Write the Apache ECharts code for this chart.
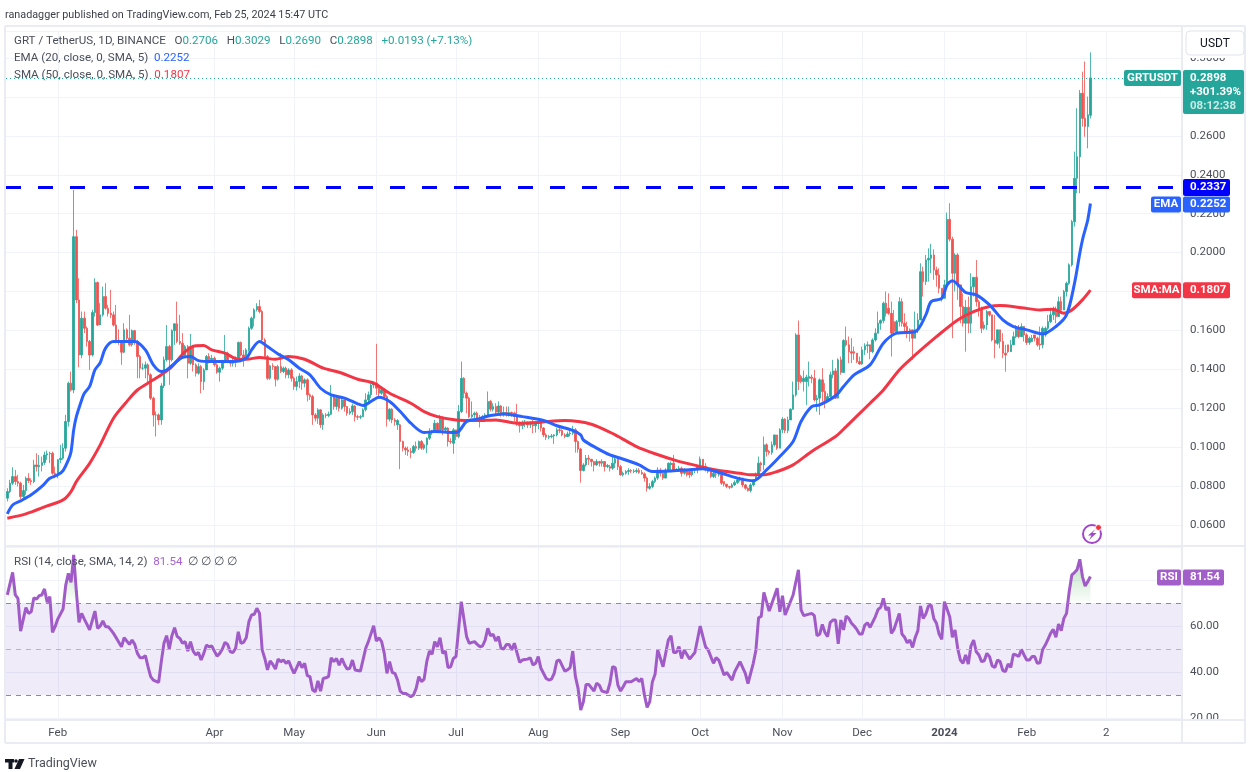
<!DOCTYPE html>
<html lang="en">
  <head>
    <meta charset="utf-8" />
    <title>GRT / TetherUS</title>
    <style>
      * {
        margin: 0;
        padding: 0;
      }

      body {
        background: #fff;
      }

      #chart-container {
        position: relative;
        width: 1250px;
        height: 772px;
        overflow: hidden;
      }
    </style>
  </head>

  <body>
    <div id="chart-container"></div>
    <script src="https://cdn.jsdelivr.net/npm/echarts@6.0.0/dist/echarts.min.js"></script>
    <script>
      // daily candles from 2023-01-13 to 2024-02-25
      var opens = [
        .0738,.0772,.0815,.0849,.0823,.0815,.0746,.0777,.0840,.0828,
        .0823,.0909,.0900,.0906,.0921,.0960,.0966,.0969,.0866,.0863,
        .0935,.0943,.0995,.1132,.1329,.1294,.2082,.1757,.1474,.1663,
        .1611,.1543,.1474,.1692,.1846,.1628,.1680,.1774,.1714,.1688,
        .1680,.1628,.1551,.1543,.1488,.1603,.1560,.1526,.1599,.1543,
        .1466,.1406,.1406,.1423,.1372,.1252,.1166,.1166,.1140,.1315,
        .1449,.1517,.1449,.1599,.1634,.1543,.1534,.1474,.1517,.1431,
        .1517,.1423,.1380,.1414,.1337,.1397,.1466,.1449,.1457,.1423,
        .1385,.1406,.1440,.1483,.1440,.1431,.1440,.1452,.1538,.1474,
        .1457,.1500,.1611,.1663,.1706,.1723,.1697,.1551,.1466,.1354,
        .1418,.1414,.1349,.1414,.1389,.1406,.1372,.1397,.1354,.1312,
        .1337,.1366,.1329,.1346,.1269,.1260,.1166,.1149,.1192,.1115,
        .1166,.1163,.1169,.1260,.1209,.1252,.1200,.1243,.1209,.1175,
        .1183,.1212,.1157,.1154,.1157,.1192,.1243,.1269,.1320,.1329,
        .1303,.1277,.1295,.1260,.1144,.1195,.1140,.1115,.1115,.1029,
        .0995,.0986,.0978,.0972,.1003,.0995,.1029,.0995,.1012,.1046,
        .1080,.1084,.1123,.1080,.1149,.1089,.1098,.1029,.1020,.1089,
        .1055,.1183,.1354,.1277,.1252,.1157,.1166,.1175,.1149,.1140,
        .1157,.1166,.1235,.1195,.1209,.1180,.1212,.1175,.1178,.1175,
        .1178,.1175,.1157,.1115,.1110,.1120,.1120,.1115,.1116,.1110,
        .1123,.1127,.1098,.1063,.1051,.1055,.1058,.1063,.1089,.1086,
        .1063,.1055,.1068,.1072,.1089,.1029,.0990,.0880,.0909,
        .0943,.0938,.0926,.0909,.0926,.0918,.0926,.0900,.0900,.0892,
        .0918,.0938,.0900,.0858,.0866,.0875,.0880,.0875,.0875,.0880,
        .0870,.0863,.0841,.0789,.0798,.0823,.0841,.0883,.0866,.0841,
        .0883,.0909,.0918,.0883,.0883,.0892,.0866,.0887,.0875,.0858,
        .0883,.0887,.0900,.0938,.0900,.0883,.0875,.0849,.0858,.0858,
        .0858,.0823,.0810,.0798,.0794,.0806,.0818,.0832,.0841,.0806,
        .0789,.0777,.0806,.0829,.0858,.0918,.0909,.1012,.0978,.0972,
        .1012,.1063,.0995,.1089,.1144,.1086,.1140,.1195,.1269,.1577,
        .1363,.1337,.1337,.1354,.1360,.1354,.1243,.1252,.1346,.1286,
        .1243,.1260,.1372,.1392,.1252,.1449,.1384,.1548,.1526,.1491,
        .1491,.1483,.1440,.1428,.1500,
        .1521,.1526,.1491,.1551,.1586,.1637,.1651,.1740,.1714,.1688,
        .1645,.1594,.1645,.1748,.1637,.1620,.1603,.1603,.1560,.1603,
        .1654,.1902,.1851,.1962,.1971,.1988,.1911,.1885,.1817,.1765,
        .1834,.2171,.2069,.1894,.1988,.1834,.1723,.1637,.1719,.1637,
        .1825,.1873,.1748,.1705,.1611,.1628,.1697,.1680,.1551,.1534,
        .1603,.1543,.1483,.1526,.1491,.1526,.1568,.1606,.1568,.1620,
        .1577,.1538,.1543,.1577,.1560,.1530,.1526,.1577,.1611,.1645,
        .1680,.1705,.1671,.1748,.1705,.1800,.1842,.1937,.2159,.2382,
        .2493,.2819,.2690,.2648,.2706
      ];
      var highs = [
        .0789,.0832,.0897,.0883,.0858,.0823,.0806,.0849,.0866,.0840,
        .0935,.0969,.0960,.0952,.0977,.0983,.0977,.0977,.0900,.0938,
        .1012,.1020,.1166,.1337,.1389,.2322,.2117,.1868,.1697,.1697,
        .1620,.1551,.1706,.1868,.1851,.1740,.1825,.1843,.1731,.1808,
        .1697,.1731,.1606,.1551,.1637,.1611,.1680,.1606,.1603,.1551,
        .1474,.1431,.1440,.1431,.1380,.1260,.1183,.1174,.1329,.1466,
        .1628,.1526,.1606,.1637,.1748,.1680,.1586,.1526,.1526,.1582,
        .1526,.1431,.1431,.1423,.1406,.1474,.1483,.1474,.1466,.1431,
        .1414,.1449,.1577,.1491,.1449,.1457,.1466,.1543,.1543,.1500,
        .1509,.1620,.1671,.1714,.1740,.1757,.1706,.1560,.1474,.1423,
        .1431,.1414,.1423,.1483,.1414,.1414,.1406,.1406,.1363,.1363,
        .1380,.1372,.1354,.1354,.1277,.1269,.1175,.1200,.1195,.1175,
        .1175,.1183,.1320,.1269,.1260,.1260,.1252,.1243,.1209,.1200,
        .1223,.1217,.1166,.1166,.1200,.1277,.1286,.1329,.1337,.1531,
        .1320,.1308,.1303,.1269,.1200,.1200,.1149,.1144,.1120,.1034,
        .1003,.1003,.0995,.1012,.1029,.1034,.1037,.1020,.1051,.1098,
        .1089,.1140,.1127,.1166,.1157,.1106,.1103,.1046,.1098,.1089,
        .1217,.1440,.1360,.1286,.1260,.1235,.1183,.1183,.1166,.1166,
        .1175,.1286,.1243,.1226,.1226,.1235,.1217,.1209,.1209,.1209,
        .1183,.1183,.1223,.1132,.1137,.1140,.1132,.1132,.1140,.1132,
        .1149,.1132,.1103,.1072,.1063,.1068,.1067,.1098,.1098,.1092,
        .1072,.1080,.1086,.1110,.1098,.1034,.0995,.0918,.0960,
        .0960,.0935,.0921,.0938,.0930,.0938,.0918,.0914,.0909,.0955,
        .0952,.0938,.0909,.0875,.0883,.0892,.0887,.0887,.0892,.0892,
        .0883,.0870,.0849,.0815,.0832,.0849,.0897,.0892,.0866,.0892,
        .0921,.0926,.0960,.0892,.0904,.0900,.0892,.0883,.0880,.0892,
        .0892,.0909,.0952,.0938,.0918,.0892,.0875,.0875,.0870,.0870,
        .0858,.0823,.0811,.0801,.0815,.0829,.0841,.0849,.0841,.0811,
        .0794,.0815,.0835,.0870,.0952,.0926,.1055,.1020,.0986,.1029,
        .1063,.1063,.1098,.1154,.1149,.1157,.1200,.1337,.1586,.1651,
        .1372,.1394,.1372,.1440,.1372,.1397,.1269,.1354,.1406,.1329,
        .1277,.1389,.1449,.1406,.1457,.1466,.1555,.1620,.1569,.1560,
        .1517,.1483,.1466,.1517,.1534,
        .1543,.1520,.1560,.1611,.1697,.1657,.1748,.1800,.1791,.1748,
        .1705,.1654,.1771,.1765,.1688,.1645,.1611,.1603,.1697,.1688,
        .1945,.1928,.1988,.2022,.2045,.2017,.1928,.1920,.1817,.1860,
        .2206,.2254,.2082,.1997,.1997,.1774,.1791,.1757,.1774,.1894,
        .1873,.1962,.1757,.1723,.1645,.1705,.1697,.1680,.1680,.1603,
        .1603,.1586,.1526,.1526,.1551,.1594,.1628,.1628,.1637,.1603,
        .1586,.1568,.1577,.1577,.1568,.1620,.1620,.1620,.1680,.1705,
        .1723,.1723,.1774,.1774,.1808,.1851,.1945,.2168,.2519,.2742,
        .2836,.2930,.2982,.2802,.3029
      ];
      var lows = [
        .0721,.0763,.0806,.0806,.0798,.0733,.0738,.0755,.0815,.0806,
        .0815,.0875,.0849,.0875,.0909,.0935,.0918,.0858,.0840,.0840,
        .0918,.0935,.0977,.1106,.1286,.1277,.1740,.1411,.1457,.1586,
        .1517,.1397,.1466,.1671,.1623,.1628,.1671,.1706,.1671,.1663,
        .1620,.1534,.1526,.1423,.1483,.1543,.1517,.1517,.1526,.1354,
        .1354,.1397,.1354,.1329,.1243,.1106,.1055,.1115,.1115,.1303,
        .1440,.1320,.1440,.1526,.1534,.1526,.1466,.1466,.1354,.1423,
        .1389,.1363,.1372,.1277,.1294,.1397,.1431,.1440,.1414,.1377,
        .1337,.1397,.1431,.1431,.1414,.1414,.1411,.1445,.1466,.1414,
        .1445,.1491,.1603,.1620,.1697,.1688,.1543,.1457,.1346,.1346,
        .1397,.1312,.1342,.1380,.1380,.1354,.1354,.1337,.1294,.1291,
        .1303,.1295,.1308,.1235,.1243,.1115,.1132,.1120,.1098,.1089,
        .1149,.1154,.1166,.1192,.1192,.1183,.1192,.1183,.1161,.1166,
        .1166,.1132,.1140,.1144,.1157,.1183,.1226,.1252,.1303,.1269,
        .1260,.1269,.1243,.1106,.1132,.1123,.1110,.1089,.0887,.0978,
        .0960,.0955,.0943,.0966,.0978,.0986,.0986,.0986,.0969,.1037,
        .1063,.1075,.1072,.1080,.1063,.1080,.1003,.1017,.0966,.1037,
        .1046,.1175,.1252,.1175,.1149,.1149,.1149,.1132,.1101,.1132,
        .1144,.1161,.1183,.1183,.1166,.1175,.1157,.1157,.1157,.1157,
        .1157,.1132,.1110,.1075,.1092,.1103,.1098,.1098,.1072,.1075,
        .1092,.1080,.1051,.1037,.1041,.1046,.1017,.1055,.1072,.1055,
        .1046,.1051,.1055,.1063,.0972,.0972,.0818,.0875,.0900,
        .0909,.0900,.0875,.0904,.0900,.0900,.0875,.0892,.0875,.0883,
        .0892,.0883,.0853,.0849,.0858,.0858,.0866,.0866,.0866,.0863,
        .0858,.0823,.0772,.0781,.0789,.0815,.0832,.0849,.0832,.0841,
        .0883,.0883,.0875,.0875,.0875,.0849,.0858,.0849,.0841,.0849,
        .0866,.0866,.0883,.0883,.0875,.0866,.0841,.0841,.0841,.0849,
        .0806,.0798,.0789,.0784,.0789,.0801,.0811,.0823,.0794,.0781,
        .0772,.0767,.0798,.0823,.0858,.0875,.0883,.0952,.0961,.0961,
        .1003,.0986,.0995,.1072,.1072,.1072,.1140,.1192,.1260,.1294,
        .1329,.1286,.1217,.1312,.1329,.1235,.1183,.1166,.1235,.1200,
        .1243,.1243,.1354,.1247,.1372,.1372,.1384,.1517,.1432,.1432,
        .1449,.1432,.1423,.1423,.1474,
        .1483,.1452,.1483,.1543,.1594,.1603,.1637,.1671,.1680,.1466,
        .1577,.1586,.1620,.1620,.1594,.1560,.1543,.1449,.1560,.1586,
        .1765,.1774,.1834,.1851,.1894,.1860,.1825,.1791,.1748,.1765,
        .1834,.2057,.1560,.1800,.1757,.1637,.1620,.1491,.1586,.1586,
        .1774,.1723,.1671,.1586,.1603,.1603,.1671,.1543,.1457,.1526,
        .1508,.1457,.1388,.1483,.1500,.1543,.1560,.1560,.1586,.1543,
        .1526,.1526,.1551,.1543,.1517,.1500,.1508,.1568,.1603,.1637,
        .1654,.1637,.1671,.1697,.1705,.1774,.1834,.1928,.2134,.2305,
        .2305,.2648,.2596,.2536,.2690
      ];
      var closes = [
        .0772,.0815,.0849,.0823,.0815,.0746,.0777,.0840,.0828,.0823,
        .0909,.0900,.0906,.0921,.0960,.0966,.0969,.0866,.0863,.0935,
        .0943,.0995,.1132,.1329,.1294,.2082,.1757,.1474,.1663,.1611,
        .1543,.1474,.1692,.1846,.1628,.1680,.1774,.1714,.1688,.1680,
        .1628,.1551,.1543,.1488,.1603,.1560,.1526,.1599,.1543,.1466,
        .1406,.1406,.1423,.1372,.1252,.1166,.1166,.1140,.1315,.1449,
        .1517,.1449,.1599,.1634,.1543,.1534,.1474,.1517,.1431,.1517,
        .1423,.1380,.1414,.1337,.1397,.1466,.1449,.1457,.1423,.1385,
        .1406,.1440,.1483,.1440,.1431,.1440,.1452,.1538,.1474,.1457,
        .1500,.1611,.1663,.1706,.1723,.1697,.1551,.1466,.1354,.1418,
        .1414,.1349,.1414,.1389,.1406,.1372,.1397,.1354,.1312,.1337,
        .1366,.1329,.1346,.1269,.1260,.1166,.1149,.1192,.1115,.1166,
        .1163,.1169,.1260,.1209,.1252,.1200,.1243,.1209,.1175,.1183,
        .1212,.1157,.1154,.1157,.1192,.1243,.1269,.1320,.1329,.1303,
        .1277,.1295,.1260,.1144,.1195,.1140,.1132,.1137,.1029,.0995,
        .0986,.0978,.0972,.1003,.0995,.1029,.0995,.1012,.1046,.1080,
        .1084,.1123,.1080,.1149,.1089,.1098,.1029,.1027,.1089,.1055,
        .1183,.1354,.1277,.1252,.1157,.1166,.1175,.1149,.1140,.1157,
        .1166,.1235,.1195,.1209,.1180,.1212,.1175,.1178,.1175,.1178,
        .1175,.1157,.1115,.1110,.1120,.1120,.1115,.1116,.1110,.1123,
        .1127,.1098,.1063,.1051,.1055,.1058,.1063,.1089,.1086,.1063,
        .1055,.1068,.1072,.1089,.1029,.0990,.0880,.0909,.0943,
        .0938,.0926,.0909,.0926,.0918,.0926,.0900,.0906,.0892,.0918,
        .0938,.0900,.0858,.0866,.0875,.0880,.0878,.0878,.0880,.0870,
        .0863,.0841,.0789,.0798,.0823,.0841,.0883,.0866,.0841,.0883,
        .0918,.0918,.0883,.0883,.0892,.0866,.0887,.0858,.0858,.0883,
        .0887,.0900,.0938,.0900,.0883,.0875,.0849,.0866,.0858,.0858,
        .0815,.0810,.0798,.0794,.0806,.0818,.0832,.0841,.0806,.0789,
        .0777,.0806,.0829,.0858,.0918,.0909,.1012,.0978,.0972,.1012,
        .1063,.0995,.1089,.1144,.1086,.1140,.1195,.1269,.1577,.1337,
        .1337,.1354,.1360,.1363,.1354,.1243,.1252,.1346,.1286,.1243,
        .1260,.1372,.1392,.1252,.1449,.1384,.1548,.1526,.1491,.1483,
        .1483,.1440,.1428,.1500,.1521,
        .1526,.1491,.1551,.1586,.1637,.1651,.1740,.1688,.1688,.1586,
        .1594,.1645,.1748,.1637,.1620,.1586,.1586,.1560,.1603,.1654,
        .1902,.1851,.1962,.1971,.1988,.1911,.1885,.1817,.1765,.1834,
        .2171,.2069,.1894,.1988,.1834,.1723,.1637,.1719,.1637,.1825,
        .1873,.1748,.1705,.1611,.1628,.1697,.1680,.1551,.1534,.1603,
        .1543,.1483,.1474,.1491,.1526,.1568,.1606,.1568,.1620,.1577,
        .1538,.1560,.1560,.1560,.1526,.1526,.1611,.1611,.1645,.1680,
        .1705,.1671,.1748,.1705,.1800,.1842,.1937,.2159,.2382,.2493,
        .2819,.2690,.2648,.2708,.2898
      ];

      // [day index, value], read at the bends of each line
      var emaPoints = [
        [0,.0657],[2,.0703],[5,.0724],[9,.0755],[13,.0798],[16,.0840],[19,.0858],[21,.0880],[23,.0935],[24,.0977],
        [25,.1089],[26,.1157],[28,.1243],[29,.1277],[31,.1312],[33,.1397],[35,.1435],[37,.1509],[40,.1543],[44,.1543],
        [48,.1543],[52,.1500],[55,.1423],[58,.1389],[60,.1397],[63,.1431],[66,.1462],[69,.1466],[72,.1445],[77,.1440],
        [85,.1440],[90,.1457],[92,.1500],[95,.1543],[98,.1517],[102,.1479],[106,.1449],[110,.1406],[114,.1372],[118,.1303],
        [122,.1269],[127,.1252],[132,.1223],[134,.1214],[137,.1235],[140,.1257],[144,.1235],[148,.1183],[152,.1123],[157,.1075],
        [161,.1080],[168,.1075],[170,.1080],[173,.1132],[177,.1144],[182,.1163],[187,.1171],[194,.1157],[202,.1137],[207,.1110],
        [213,.1086],[216,.1063],[217,.1037],[222,.0995],[227,.0960],[231,.0943],[238,.0909],[243,.0875],[250,.0878],[256,.0883],
        [262,.0889],[269,.0866],[275,.0841],[281,.0827],[286,.0883],[291,.0952],[296,.1029],[299,.1132],[303,.1209],[306,.1217],
        [312,.1264],[315,.1312],[319,.1372],[325,.1423],[330,.1534],[335,.1586],[342,.1594],[346,.1680],[348,.1748],[352,.1765],
        [354,.1834],[356,.1856],[361,.1795],[365,.1783],[370,.1731],[375,.1654],[379,.1620],[384,.1603],[390,.1582],[395,.1620],
        [399,.1680],[402,.1842],[404,.1997],[405,.2065],[406,.2117],[407,.2168],[408,.2252]
      ];
      var smaPoints = [
        [0,.0635],[7,.0657],[15,.0698],[21,.0729],[24,.0772],[26,.0823],[31,.0917],[35,.1012],[40,.1149],[45,.1234],
        [49,.1294],[55,.1346],[58,.1372],[62,.1414],[67,.1491],[71,.1521],[74,.1522],[77,.1500],[82,.1483],[87,.1452],
        [90,.1452],[95,.1461],[101,.1452],[106,.1466],[112,.1452],[119,.1406],[125,.1385],[132,.1349],[138,.1329],[144,.1277],
        [152,.1226],[157,.1183],[162,.1157],[169,.1140],[177,.1137],[184,.1140],[192,.1123],[200,.1127],[210,.1137],[220,.1118],
        [229,.1063],[237,.1003],[244,.0966],[252,.0931],[260,.0904],[267,.0883],[276,.0866],[280,.0858],[285,.0858],[290,.0875],
        [296,.0909],[303,.0978],[312,.1055],[316,.1106],[325,.1226],[330,.1294],[336,.1397],[342,.1474],[350,.1568],[358,.1654],
        [364,.1697],[370,.1723],[374,.1728],[382,.1717],[389,.1705],[394,.1709],[398,.1688],[401,.1705],[405,.1757],[408,.1807]
      ];
      var rsiPoints = [
        [0,73.5],[2,83.3],[3,73.5],[4,72],[5,57.8],[7,68],[8,65.5],[9,66.2],[10,72.3],[11,71.7],
        [12,73.2],[13,73.5],[14,76.1],[15,70.3],[16,72.8],[17,57.2],[18,59.7],[19,63],[21,67.4],[22,77.8],
        [23,82.9],[24,79],[25,90.9],[26,74.9],[27,61.6],[28,65.5],[29,63],[30,60.7],[31,58.3],[33,66.5],
        [34,59],[35,60],[36,62.2],[37,59.7],[38,59.7],[39,58.3],[40,56.8],[41,54.9],[42,52.9],[43,51],
        [44,54.9],[46,52],[47,53.9],[48,52],[49,48.1],[50,46.2],[51,46.2],[52,47.1],[53,42.3],[54,38],
        [55,36.5],[57,35.5],[58,44.5],[59,52.5],[60,55.8],[61,50],[62,55.8],[63,59.3],[64,55.4],[65,54.6],
        [66,52.5],[67,53.2],[68,49.1],[69,53.2],[70,49.1],[71,47.4],[72,48.5],[73,45.2],[74,48.1],[75,51.7],
        [76,51],[77,51.3],[78,49.1],[79,46.9],[80,48.1],[81,50],[82,52.9],[83,52],[84,48.8],[85,48.5],
        [86,50.3],[87,57.5],[88,52.5],[89,52.9],[90,54.9],[91,61.9],[92,64.8],[93,65.1],[94,67.7],[95,65.5],
        [96,49.6],[97,45.9],[98,40.9],[99,44.8],[100,43.3],[101,41.3],[102,45.6],[103,44.5],[104,45.2],[105,43.8],
        [106,44.8],[107,41.9],[108,39.4],[109,41.9],[110,44.5],[111,41.9],[112,43.8],[113,38.4],[114,38],[115,32.2],
        [116,31.4],[117,36.1],[118,31.7],[119,37.2],[120,37.5],[121,38],[122,46.2],[123,44.5],[124,45.9],[125,43],
        [126,45.9],[127,43.3],[128,41.3],[129,41.6],[130,45.2],[131,40.9],[133,40.4],[135,50.3],[136,53.2],[138,60.1],
        [139,53.5],[140,54.9],[141,53.2],[142,48.1],[143,39.4],[144,44.5],[145,39.8],[146,39.4],[147,36.5],[148,31.7],
        [149,30.7],[150,30.7],[151,30],[152,29.3],[153,30],[154,32.9],[155,38],[156,35.8],[157,36.9],[158,44.5],
        [159,49.1],[160,47.7],[161,53.2],[162,51],[163,54.9],[164,48.1],[165,49.1],[166,41.9],[167,42.3],[168,45.9],
        [169,46.7],[171,70.6],[172,63],[173,55.4],[174,52.5],[175,52.9],[176,53.2],[177,52],[178,51],[179,51.3],
        [180,53.9],[181,59],[182,55.8],[183,56.4],[184,53.5],[185,55.4],[186,50.3],[187,50],[188,52],[189,52],
        [190,49.6],[191,52.5],[193,44.2],[194,45.2],[195,45.4],[196,45.6],[197,46.2],[198,43],[199,43.8],[200,46.7],
        [201,41.6],[203,37.2],[204,36.5],[205,36.9],[206,39.4],[207,44.8],[208,45.2],[210,40.4],[211,40.9],[212,41.9],
        [213,49.1],[214,38],[215,32.9],[216,23.5],[217,27.1],[218,34.6],[219,34.6],[221,31.7],[222,35.1],[223,34.3],
        [224,31.7],[226,31.1],[227,35.1],[228,42.3],[229,41.9],[230,34.3],[231,31.7],[232,33.6],[233,35.8],[235,35.8],
        [237,37.2],[238,35.8],[239,37.2],[240,30],[241,24.6],[242,27.1],[243,35.8],[244,39],[245,49.6],[247,42.3],
        [249,53.9],[250,55.8],[251,48.5],[252,48.5],[253,51],[254,45.9],[255,49.6],[257,45.6],[259,48.5],[261,60],
        [263,51],[264,49.6],[266,43.8],[267,46.2],[268,45.2],[270,38.7],[271,39.8],[273,36.5],[274,40.1],[276,44.5],
        [278,39.4],[279,35],[281,43.8],[282,49.6],[283,63.6],[284,64.2],[285,74.6],[287,66.5],[290,76.4],[291,66.2],
        [292,73.2],[293,64.8],[296,73.5],[298,84.4],[299,67],[300,64.5],[303,65.5],[304,64.5],[305,55.8],[306,56.4],
        [307,60.7],[308,57.2],[309,55.4],[310,61.6],[311,62.6],[312,62.6],[313,52.2],[314,62.6],[315,58.3],[316,64.3],
        [317,63.3],[318,61.2],[319,60],[320,58.5],[321,56.5],[322,56.5],[323,60.4],[324,61.4],[325,59.4],[327,64.1],
        [328,67.2],[329,68.1],[330,72],[331,67],[332,68.1],[333,56.8],[334,58.5],[336,65.5],[337,56.5],[338,55.1],
        [339,52.7],[340,53.9],[341,50.7],[342,55],[343,58],[344,68.7],[345,63.3],[346,65.2],[347,68.7],[348,69.1],
        [349,63.3],[350,61.2],[351,56.5],[352,54.2],[353,70.6],[355,64],[356,55.1],[357,58.3],[358,50.3],[359,45.2],
        [360,43.8],[361,47.4],[362,43.5],[363,51.3],[364,53.9],[365,48.8],[366,47.4],[367,44.5],[368,44.9],[369,48.1],
        [370,46.7],[371,42.6],[372,42],[373,45.2],[374,44.5],[375,40.6],[376,40.2],[377,43.5],[378,42],[379,47.8],
        [380,47.4],[381,46.7],[382,49.8],[383,47.4],[384,45.2],[385,45.2],[386,46.7],[387,46.7],[388,43.8],[389,44],
        [390,49.8],[391,51.7],[392,54.2],[393,56.8],[394,58.5],[395,55.1],[396,60.9],[397,58],[398,63.3],[399,65.5],
        [400,74.9],[401,82.2],[402,83.2],[403,84.6],[404,89],[405,81.5],[406,77.4],[407,79.3],[408,81.54]
      ];

      var tickDates = ["2023-02-01","2023-04-01","2023-05-01","2023-06-01","2023-07-01","2023-08-01","2023-09-01","2023-10-01","2023-11-01","2023-12-01","2024-01-01","2024-02-01","2024-03-02"];
      var tickLabels = ["Feb","Apr","May","Jun","Jul","Aug","Sep","Oct","Nov","Dec","2024","Feb","2"];

      var supportLevel = 0.2337;
      var lastClose = 0.2898;
      var lastEma = 0.2252;
      var lastSma = 0.1807;
      var lastRsi = 81.54;

      var UP = "#26a69a";
      var DOWN = "#ef5350";
      var GRID = "#f0f3fa";
      var TEXT = "#4a4e59";
      var FONT = "Roboto, sans-serif";

      // the time scale runs on past the last candle, to 443 days
      var categories = [];
      for (var d = 0; d < 443; d++) {
        categories.push(new Date(Date.UTC(2023, 0, 13 + d)).toISOString().slice(0, 10));
      }
      function isTick(i, value) {
        return tickDates.indexOf(value) >= 0;
      }

      var candles = opens.map(function (o, i) {
        return [o, closes[i], lows[i], highs[i]];
      });
      // green fill over 70 only shows at both ends of the RSI in the picture
      var rsiOver = rsiPoints
        .filter(function (p) { return p[0] < 30 || p[0] > 396; })
        .map(function (p) { return [p[0], Math.max(p[1], 70)]; });

      var dom = document.getElementById("chart-container");
      var myChart = echarts.init(dom, null, { renderer: "canvas" });

      var hiddenAxisParts = {
        axisLine: { show: false },
        axisTick: { show: false },
        axisLabel: { show: false },
      };
      var monthLines = {
        show: true,
        interval: isTick,
        alignWithLabel: true,
        lineStyle: { color: GRID, width: 1 },
      };
      function priceLine(value, color, width, type) {
        return {
          yAxis: value,
          lineStyle: { color: color, width: width, type: type, opacity: 1 },
        };
      }

      var option = {
        animation: false,
        backgroundColor: "#fff",
        textStyle: { fontFamily: FONT },
        grid: [
          { left: 6, width: 1176, top: 31, height: 494 },
          { left: 6, width: 1176, top: 547, height: 171 },
          { left: 6, width: 1176, top: 31, height: 515 },
        ],
        xAxis: [
          Object.assign({ type: "category", gridIndex: 0, data: categories, splitLine: { show: false } }, hiddenAxisParts),
          {
            type: "category",
            gridIndex: 1,
            data: categories,
            axisLine: { show: false },
            axisTick: { show: false, alignWithLabel: true },
            splitLine: monthLines,
            axisLabel: {
              interval: isTick,
              margin: 9,
              fontSize: 11.5,
              color: TEXT,
              formatter: function (value) {
                var label = tickLabels[tickDates.indexOf(value)];
                return label === "2024" ? "{b|2024}" : label;
              },
              rich: { b: { fontWeight: "bold", fontSize: 11.5, color: TEXT } },
            },
          },
          Object.assign({ type: "category", gridIndex: 2, data: categories, splitLine: monthLines }, hiddenAxisParts),
        ],
        yAxis: [
          {
            type: "value",
            gridIndex: 0,
            position: "right",
            min: 0.06,
            max: 0.3139,
            interval: 0.02,
            axisLine: { show: false },
            axisTick: { show: false },
            splitLine: { lineStyle: { color: GRID } },
            axisLabel: {
              showMaxLabel: false,
              fontSize: 11.5,
              color: TEXT,
              formatter: function (v) { return v.toFixed(4); },
            },
          },
          {
            type: "value",
            gridIndex: 1,
            position: "right",
            min: 20,
            max: 94.35,
            interval: 20,
            axisLine: { show: false },
            axisTick: { show: false },
            splitLine: { lineStyle: { color: GRID } },
            axisLabel: {
              showMaxLabel: false,
              fontSize: 11.5,
              color: TEXT,
              formatter: function (v) { return v.toFixed(2); },
            },
          },
          Object.assign({ type: "value", gridIndex: 2, show: false, splitLine: { show: false } }, hiddenAxisParts),
        ],
        series: [
          {
            name: "GRTUSDT",
            type: "candlestick",
            xAxisIndex: 0,
            yAxisIndex: 0,
            barWidth: 2,
            data: candles,
            itemStyle: {
              color: UP,
              color0: DOWN,
              borderColor: UP,
              borderColor0: DOWN,
              borderWidth: 0.8,
            },
            markLine: {
              silent: true,
              symbol: "none",
              precision: 4,
              label: { show: false },
              data: [priceLine(lastClose, UP, 1, [1, 3])],
            },
          },
          {
            name: "SMA 50",
            type: "line",
            xAxisIndex: 0,
            yAxisIndex: 0,
            data: smaPoints,
            showSymbol: false,
            smooth: 0.3,
            lineStyle: { color: "#f23645", width: 3 },
          },
          {
            name: "EMA 20",
            type: "line",
            xAxisIndex: 0,
            yAxisIndex: 0,
            data: emaPoints,
            showSymbol: false,
            smooth: 0.3,
            lineStyle: { color: "#2962ff", width: 3 },
            markLine: {
              silent: true,
              symbol: "none",
              precision: 4,
              label: { show: false },
              data: [priceLine(supportLevel, "#0000ff", 3, [15, 17])],
            },
          },
          {
            name: "RSI over 70",
            type: "line",
            xAxisIndex: 1,
            yAxisIndex: 1,
            data: rsiOver,
            showSymbol: false,
            lineStyle: { width: 0 },
            areaStyle: {
              origin: 70,
              color: new echarts.graphic.LinearGradient(0, 0, 0, 1, [
                { offset: 0, color: "rgba(76,175,80,0.6)" },
                { offset: 1, color: "rgba(76,175,80,0.02)" },
              ]),
            },
          },
          {
            name: "RSI",
            type: "line",
            xAxisIndex: 1,
            yAxisIndex: 1,
            data: rsiPoints,
            showSymbol: false,
            lineStyle: { color: "#a05bc8", width: 3 },
            markArea: {
              silent: true,
              itemStyle: { color: "rgba(126,87,194,0.12)" },
              data: [[{ yAxis: 30 }, { yAxis: 70 }]],
            },
            markLine: {
              silent: true,
              symbol: "none",
              label: { show: false },
              data: [
                priceLine(70, "#8a8d96", 1, [5, 5]),
                priceLine(50, "#b4b6bd", 1, [5, 5]),
                priceLine(30, "#8a8d96", 1, [5, 5]),
              ],
            },
          },
        ],
      };

      myChart.setOption(option);

      // page furniture: frame, tags on the scale, legends, logos
      var LEGEND_FONT = "11.6px " + FONT;
      var TAG_FONT = "bold 11.5px " + FONT;

      function line(x1, y1, x2, y2) {
        return {
          type: "line",
          z: 60,
          shape: { x1: x1, y1: y1, x2: x2, y2: y2 },
          style: { stroke: "#e9ecf3", lineWidth: 2 },
        };
      }
      function box(x, y, w, h, fill) {
        return {
          type: "rect",
          z: 70,
          shape: { x: x, y: y, width: w, height: h, r: 2 },
          style: { fill: fill },
        };
      }
      function label(x, y, text, fill, align, font) {
        return {
          type: "text",
          z: 71,
          x: x,
          y: y,
          style: {
            text: text,
            fill: fill,
            align: align || "left",
            verticalAlign: "middle",
            font: font || "12px " + FONT,
          },
        };
      }
      function richLabel(x, y, text) {
        return {
          type: "text",
          z: 71,
          x: x,
          y: y,
          style: {
            text: text,
            verticalAlign: "middle",
            font: LEGEND_FONT,
            rich: {
              t: { fill: TEXT, font: LEGEND_FONT },
              g: { fill: UP, font: LEGEND_FONT },
              b: { fill: "#2962ff", font: LEGEND_FONT },
              r: { fill: "#f23645", font: LEGEND_FONT },
              p: { fill: "#ab62cf", font: LEGEND_FONT },
            },
          },
        };
      }
      function scaleTag(name, nameLeft, value, y, boxRight, color) {
        return [
          box(nameLeft, y - 8, 1181 - nameLeft, 16, color),
          label((nameLeft + 1181) / 2, y, name, "#fff", "center", TAG_FONT),
          box(1183, y - 8, boxRight - 1183, 16, color),
          label(1190, y, value, "#fff", "left", TAG_FONT),
        ];
      }

      var closeY = myChart.convertToPixel({ yAxisIndex: 0 }, lastClose);
      var supportY = myChart.convertToPixel({ yAxisIndex: 0 }, supportLevel);
      var emaY = myChart.convertToPixel({ yAxisIndex: 0 }, lastEma);
      var smaY = myChart.convertToPixel({ yAxisIndex: 0 }, lastSma);
      var rsiY = myChart.convertToPixel({ yAxisIndex: 1 }, lastRsi);

      var furniture = [
        { type: "rect", z: 50, shape: { x: 1183, y: 721, width: 61, height: 22 }, style: { fill: "#fff" } },
        { type: "rect", z: 50, shape: { x: 1183, y: 31, width: 61, height: 27 }, style: { fill: "#fff" } },
        line(5, 26, 1245, 26),
        line(5, 26, 5, 743),
        line(1245, 26, 1245, 743),
        line(5, 743, 1245, 743),
        line(1182, 26, 1182, 743),
        line(5, 546, 1245, 546),
        line(5, 720, 1245, 720),

        label(5, 15, "ranadagger published on TradingView.com, Feb 25, 2024 15:47 UTC", "#3c3f49", "left", "10.8px " + FONT),
        richLabel(14, 41, "{t|GRT / TetherUS, 1D, BINANCE   O}{g|0.2706}{t|   H}{g|0.3029}{t|   L}{g|0.2690}{t|   C}{g|0.2898}{g|   +0.0193 (+7.13%)}"),
        richLabel(14, 58, "{t|EMA (20, close, 0, SMA, 5)  }{b|0.2252}"),
        richLabel(14, 75, "{t|SMA (50, close, 0, SMA, 5)  }{r|0.1807}"),
        richLabel(14, 562, "{t|RSI (14, close, SMA, 14, 2)  }{p|81.54}{t|  ∅ ∅ ∅ ∅}"),

        {
          type: "rect",
          z: 70,
          shape: { x: 1186, y: 31, width: 58, height: 24, r: 4 },
          style: { fill: "#fff", stroke: "#e0e3eb", lineWidth: 1 },
        },
        label(1215, 44, "USDT", "#131722", "center"),

        box(1124, closeY - 8, 57, 16, UP),
        label(1152.5, closeY, "GRTUSDT", "#fff", "center", TAG_FONT),
        box(1183, closeY - 8, 61, 44, UP),
        label(1190, closeY, "0.2898", "#fff", "left", TAG_FONT),
        label(1190, closeY + 14, "+301.39%", "#fff", "left", TAG_FONT),
        label(1190, closeY + 28, "08:12:38", "#c9ebe7", "left", TAG_FONT),

        box(1183, supportY - 8, 47, 17, "#0000ff"),
        label(1190, supportY, "0.2337", "#fff", "left", TAG_FONT),
      ]
        .concat(scaleTag("EMA", 1151, "0.2252", emaY + 1, 1230, "#2962ff"))
        .concat(scaleTag("SMA:MA", 1132, "0.1807", smaY, 1230, "#f23645"))
        .concat(scaleTag("RSI", 1157, "81.54", rsiY + 1, 1224, "#a35fc9"))
        .concat([
          // lightning badge above the RSI pane
          {
            type: "circle",
            z: 71,
            shape: { cx: 1092, cy: 534, r: 9 },
            style: { fill: "#fff", stroke: "#a045c8", lineWidth: 2 },
          },
          {
            type: "polygon",
            z: 72,
            shape: { points: [[1095.5, 529], [1088, 535.5], [1091.5, 535.5], [1089, 540], [1096.5, 533], [1092.5, 533]] },
            style: { fill: "#a045c8" },
          },
          { type: "circle", z: 73, shape: { cx: 1098.5, cy: 527.5, r: 3 }, style: { fill: "#f7323f", stroke: "#fff", lineWidth: 1 } },

          // TradingView mark
          { type: "rect", z: 71, shape: { x: 5, y: 759, width: 9, height: 3.5 }, style: { fill: "#131722" } },
          { type: "rect", z: 71, shape: { x: 8.5, y: 759, width: 4, height: 10 }, style: { fill: "#131722" } },
          { type: "circle", z: 71, shape: { cx: 16, cy: 761, r: 1.8 }, style: { fill: "#131722" } },
          {
            type: "polygon",
            z: 71,
            shape: { points: [[19, 759], [24.5, 759], [20, 769], [14.5, 769]] },
            style: { fill: "#131722" },
          },
          label(28, 764, "TradingView", "#4a4e59", "left", "12.5px " + FONT),
        ]);

      myChart.setOption({ graphic: { elements: furniture } });

      window.addEventListener("resize", myChart.resize);
    </script>
  </body>
</html>
